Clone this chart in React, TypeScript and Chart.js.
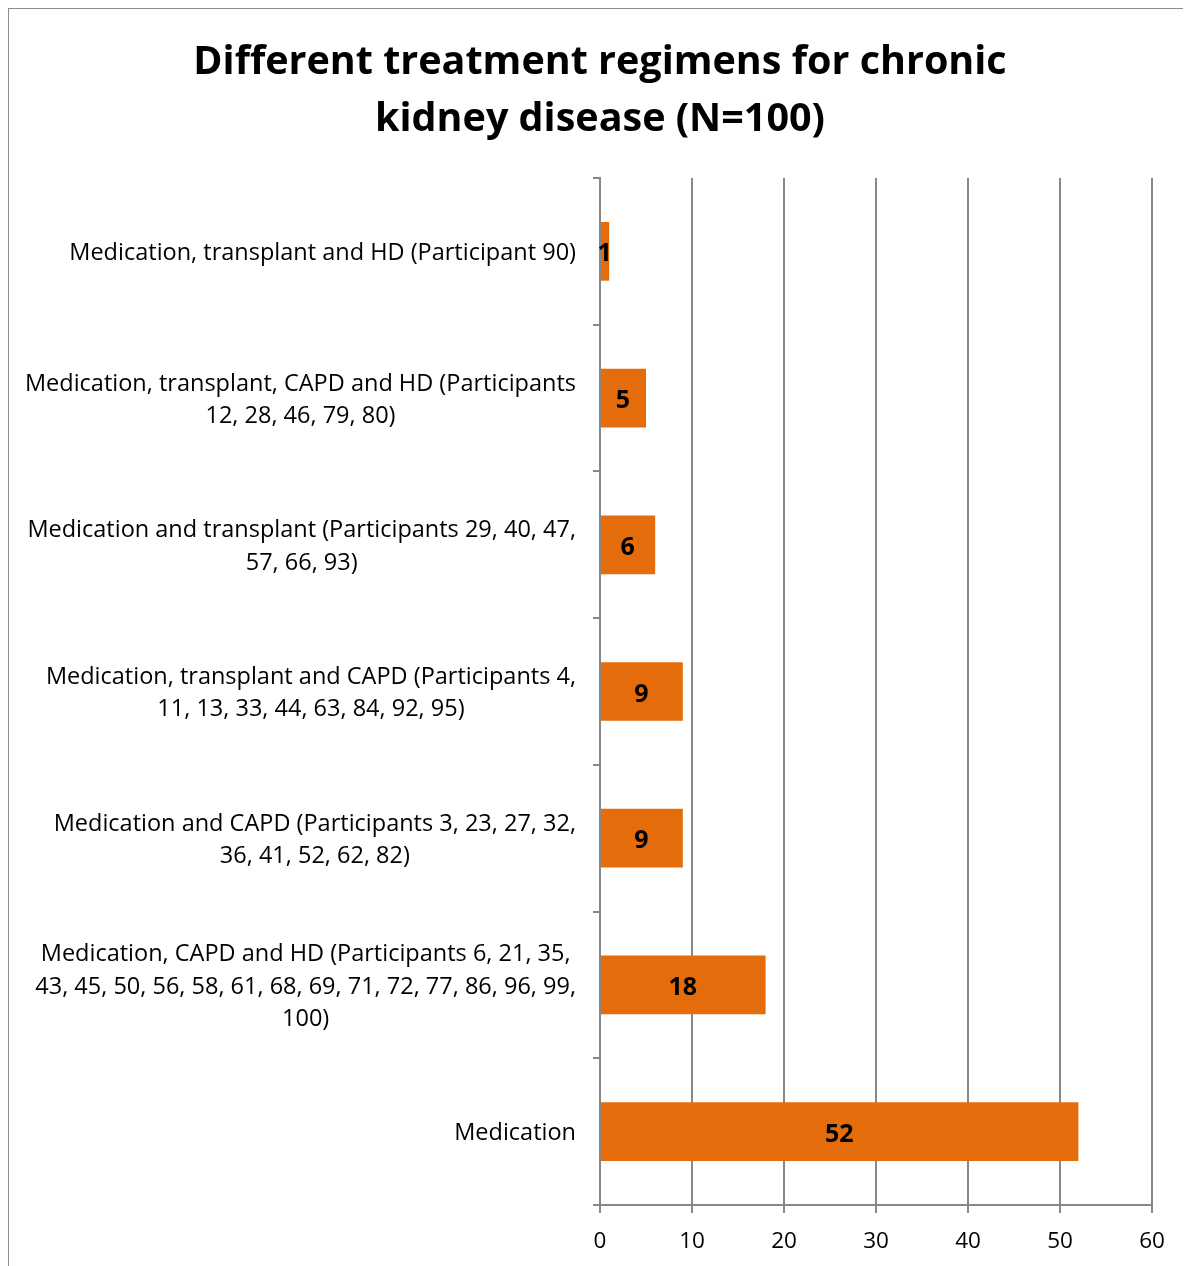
import React, { useEffect, useRef } from "react";
import { Chart, registerables } from "chart.js";

Chart.register(...registerables);

const titleLines = ["Different treatment regimens for chronic", "kidney disease (N=100)"];

const categories: string[][] = [
  ["Medication, transplant and HD (Participant 90)"],
  ["Medication, transplant, CAPD and HD (Participants", "12, 28, 46, 79, 80)"],
  ["Medication and transplant (Participants 29, 40, 47,", "57, 66, 93)"],
  ["Medication, transplant and CAPD (Participants 4,", "11, 13, 33, 44, 63, 84, 92, 95)"],
  ["Medication and CAPD (Participants 3, 23, 27, 32,", "36, 41, 52, 62, 82)"],
  ["Medication, CAPD and HD (Participants 6, 21, 35,", "43, 45, 50, 56, 58, 61, 68, 69, 71, 72, 77, 86, 96, 99,", "100)"],
  ["Medication"],
];

const counts = [1, 5, 6, 9, 9, 18, 52];

const xTicks = [0, 10, 20, 30, 40, 50, 60];

const FONT = "'Open Sans', 'Noto Sans', sans-serif";
const LABEL_SIZE = 23.5;
const LINE_H = 32.5;

const customLabels = {
  id: "customLabels",
  afterDraw(chart: any) {
    const ctx = chart.ctx;
    const yScale = chart.scales.y;
    const xScale = chart.scales.x;
    ctx.save();
    ctx.font = `${LABEL_SIZE}px ${FONT}`;
    ctx.fillStyle = "#000";
    ctx.textBaseline = "middle";
    ctx.textAlign = "center";
    const rightEdge = yScale.right - 24;
    categories.forEach((lines, i) => {
      const cy = yScale.getPixelForValue(i) + 2;
      const maxW = Math.max(...lines.map((l) => ctx.measureText(l).width));
      const cx = rightEdge - maxW / 2;
      const startY = cy - ((lines.length - 1) * LINE_H) / 2;
      lines.forEach((l, j) => ctx.fillText(l, cx, startY + j * LINE_H));
    });
    ctx.font = `bold 25px ${FONT}`;
    const meta = chart.getDatasetMeta(0);
    meta.data.forEach((bar: any, i: number) => {
      const x0 = xScale.getPixelForValue(0);
      const cx = (x0 + bar.x) / 2;
      ctx.fillText(String(counts[i]), cx, bar.y + 3);
    });
    ctx.restore();
  },
};

export default function App() {
  const ref = useRef<HTMLCanvasElement | null>(null);
  useEffect(() => {
    if (!ref.current) return;
    const chart = new Chart(ref.current, {
      type: "bar",
      data: {
        labels: categories,
        datasets: [
          {
            data: counts,
            backgroundColor: "#E46C0A",
            borderWidth: 0,
            barPercentage: 0.4,
            categoryPercentage: 1,
          },
        ],
      },
      plugins: [customLabels],
      options: {
        indexAxis: "y",
        animation: false,
        responsive: false,
        maintainAspectRatio: false,
        layout: { padding: 0 },
        plugins: {
          legend: { display: false },
          tooltip: { enabled: false },
          title: {
            display: true,
            text: titleLines,
            color: "#000",
            font: { family: FONT, size: 39.5, weight: "bold", lineHeight: 1.443 },
            padding: { top: 25, bottom: 30 },
          },
        },
        scales: {
          x: {
            min: 0,
            max: 60,
            afterBuildTicks: (scale: any) => {
              scale.ticks = xTicks.map((v) => ({ value: v }));
            },
            afterFit: (scale: any) => {
              scale.height = 61;
              scale.paddingRight = 39;
            },
            grid: {
              color: "#888888",
              lineWidth: 2,
              drawTicks: true,
              tickLength: 8,
            },
            border: { color: "#888888", width: 2 },
            ticks: {
              color: "#000",
              font: { family: FONT, size: 22.5 },
              padding: 15,
            },
          },
          y: {
            offset: true,
            afterFit: (scale: any) => {
              scale.width = 591;
            },
            grid: {
              offset: true,
              drawOnChartArea: false,
              drawTicks: true,
              tickLength: 7,
              color: "#888888",
              lineWidth: 2,
            },
            border: { color: "#888888", width: 2 },
            ticks: {
              color: "transparent",
              font: { family: FONT, size: LABEL_SIZE },
            },
          },
        },
      },
    });
    return () => chart.destroy();
  }, []);
  return (
    <div
      style={{
        width: 1183,
        height: 1258,
        borderTop: "1.5px solid #8c8c8c",
        borderLeft: "1.5px solid #8c8c8c",
        boxSizing: "border-box",
        overflow: "hidden",
        background: "#fff",
      }}
    >
      <canvas ref={ref} width={1182} height={1257} style={{ display: "block" }} />
    </div>
  );
}
